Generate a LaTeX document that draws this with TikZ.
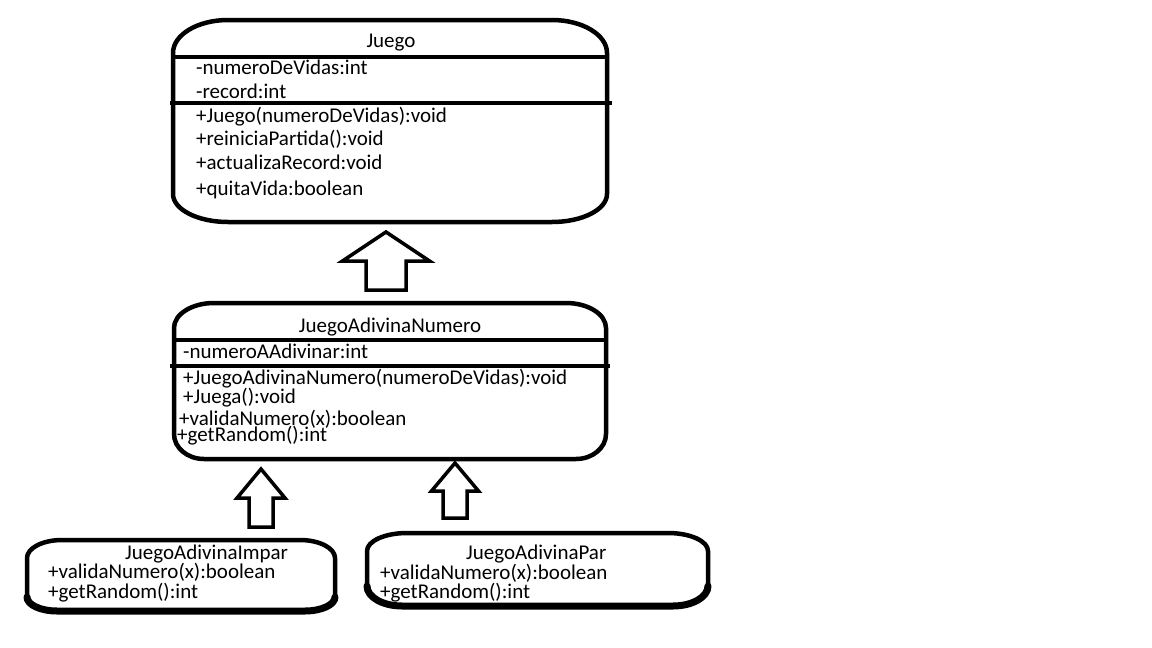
\documentclass[tikz,border=0pt]{standalone}
\usepackage{fontspec}
\setmainfont{Carlito}
\usetikzlibrary{calc}

\tikzset{
  cls/.style={line width=4.5pt, line join=round},
  heavybase/.style={line width=7pt, line cap=round},
  divider/.style={line width=4pt},
  member/.style={anchor=base west, inner sep=0pt, font=\fontsize{21}{21}\selectfont},
  clsname/.style={anchor=base, inner sep=0pt, font=\fontsize{21}{21}\selectfont},
  inherit/.style={line width=3.5pt, line join=miter, fill=white},
}

% Class outline with elliptic corners:
% #2 left, #3 top, #4 right, #5 bottom, #6/#7 top corner radii, #8/#9 bottom corner radii
\newcommand\classoutline[9][]{%
  \draw[cls,#1] (#2,#3+#7)
    arc[start angle=180, end angle=270, x radius=#6, y radius=#7]
    -- (#4-#6,#3)
    arc[start angle=270, end angle=360, x radius=#6, y radius=#7]
    -- (#4,#5-#9)
    arc[start angle=0, end angle=90, x radius=#8, y radius=#9]
    -- (#2+#8,#5)
    arc[start angle=90, end angle=180, x radius=#8, y radius=#9]
    -- cycle;}

% Heavier stroke along the bottom edge and its corners:
% #1 left, #2 right, #3 bottom, #4/#5 bottom corner radii
\newcommand\heavybottom[5]{%
  \draw[heavybase] (#1,#3-#5)
    arc[start angle=180, end angle=90, x radius=#4, y radius=#5]
    -- (#2-#4,#3)
    arc[start angle=90, end angle=0, x radius=#4, y radius=#5];}

% Hollow block arrow for generalisation, from tail coordinate up to tip coordinate:
% #1 tip, #2 tail, #3 head half-width, #4 shaft half-width, #5 head length
\newcommand\inheritarrow[5]{%
  \draw[inherit] let \p1=(#1), \p2=(#2) in
    (\x1,\y1) -- (\x1+#3pt,\y1-#5pt) -- (\x1+#4pt,\y1-#5pt) -- (\x1+#4pt,\y2)
    -- (\x1-#4pt,\y2) -- (\x1-#4pt,\y1-#5pt) -- (\x1-#3pt,\y1-#5pt) -- cycle;}

\begin{document}
\begin{tikzpicture}[x=1pt, y=-1pt]
  \fill[white] (0,0) rectangle (1152,648);
  \useasboundingbox (0,0) rectangle (1152,648);

  % ---- Juego ----
  \classoutline{173}{20}{607}{222}{55}{33}{55}{28}
  \draw[divider] (173,57) -- (607,57);
  \draw[divider] (170,103) -- (612,103);
  \node[clsname] (juego) at (391,47) {Juego};
  \node[member] (j1) at (196,74) {-numeroDeVidas:int};
  \node[member] (j2) at (196,98) {-record:int};
  \node[member] (j3) at (196,122) {+Juego(numeroDeVidas):void};
  \node[member] (j4) at (196,145) {+reiniciaPartida():void};
  \node[member] (j5) at (196,169) {+actualizaRecord:void};
  \node[member] (j6) at (196,195) {+quitaVida:boolean};

  % ---- JuegoAdivinaNumero ----
  \classoutline{174}{303}{606}{459}{40}{25}{30}{25}
  \draw[divider] (174,340) -- (606,340);
  \draw[divider] (170,366) -- (610,366);
  \node[clsname] (numero) at (390,332) {JuegoAdivinaNumero};
  \node[member] (n1) at (183,358) {-numeroAAdivinar:int};
  \node[member] (n2) at (183,384) {+JuegoAdivinaNumero(numeroDeVidas):void};
  \node[member] (n3) at (183,403) {+Juega():void};
  \node[member] (n4) at (179,425) {+validaNumero(x):boolean};
  \node[member] (n5) at (177,441) {+getRandom():int};

  % ---- JuegoAdivinaImpar ----
  \classoutline{27}{540}{335}{611}{35}{18}{30}{14}
  \heavybottom{27}{335}{611}{30}{14}
  \node[member] (impar) at (125,559) {JuegoAdivinaImpar};
  \node[member] (i1) at (48,578) {+validaNumero(x):boolean};
  \node[member] (i2) at (48,598) {+getRandom():int};

  % ---- JuegoAdivinaPar ----
  \classoutline{367}{533}{708}{606}{40}{18}{35}{20}
  \heavybottom{367}{708}{606}{35}{20}
  \node[member] (par) at (466,559) {JuegoAdivinaPar};
  \node[member] (p1) at (380,579) {+validaNumero(x):boolean};
  \node[member] (p2) at (380,598) {+getRandom():int};

  % ---- generalisation arrows ----
  \coordinate (tipA) at (386,232);  \coordinate (tailA) at (386,290);
  \coordinate (tipB) at (261,469);  \coordinate (tailB) at (261,527);
  \coordinate (tipC) at (455,463);  \coordinate (tailC) at (455,518);
  \inheritarrow{tipA}{tailA}{43.5}{20}{29}
  \inheritarrow{tipB}{tailB}{24}{12}{29}
  \inheritarrow{tipC}{tailC}{23.5}{12}{28}
\end{tikzpicture}
\end{document}
